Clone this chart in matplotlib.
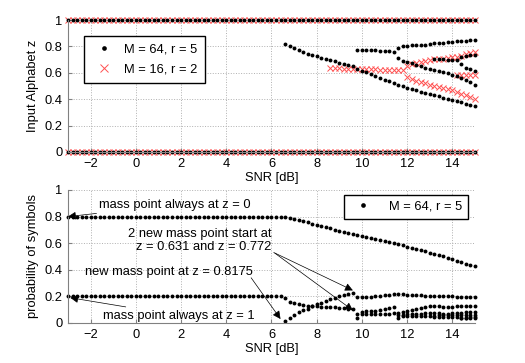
import numpy as np
import matplotlib
matplotlib.use("Agg")
import matplotlib.pyplot as plt

plt.rcParams['font.family'] = ['Liberation Sans', 'DejaVu Sans']
plt.rcParams['font.size'] = 9.3

# SNR grid [dB]
snr = np.round(np.arange(-3.0, 15.01, 0.2), 1)

# ---- top: mass point positions z, M = 64, r = 5 ----
z64_a_start = 6.6
z64_a = [0.818, 0.800, 0.785, 0.770, 0.757, 0.745, 0.734, 0.724, 0.714, 0.704,
         0.695, 0.686, 0.677, 0.669, 0.661, 0.653]
z64_b_start = 9.8
z64_b = [0.631, 0.617, 0.603, 0.589, 0.575, 0.562, 0.549, 0.536, 0.523, 0.510,
         0.498, 0.487, 0.477, 0.467, 0.457, 0.448, 0.439, 0.430, 0.421, 0.412,
         0.403, 0.394, 0.385, 0.376, 0.367, 0.358, 0.349]
z64_c_start = 9.8
z64_c = [0.774, 0.773, 0.772, 0.771, 0.770, 0.768, 0.766, 0.763, 0.760, 0.785,
         0.800, 0.805, 0.807, 0.809, 0.811, 0.814, 0.818, 0.822, 0.826, 0.829,
         0.832, 0.835, 0.838, 0.841, 0.844, 0.847, 0.850]
z64_d_start = 11.6
z64_d = [0.712, 0.692, 0.682, 0.671, 0.660, 0.649, 0.639, 0.630, 0.622, 0.614,
         0.605, 0.595, 0.585, 0.575, 0.562, 0.546, 0.528, 0.505]
z64_e_start = 13.2
z64_e = [0.705, 0.703, 0.701, 0.699, 0.697, 0.700, 0.718, 0.726, 0.732, 0.737]
z64_f_start = 14.4
z64_f = [0.670, 0.640, 0.625, 0.612]

# ---- top: mass point positions z, M = 16, r = 2 ----
z16_a_start = 8.6
z16_a = [0.635, 0.634, 0.633, 0.632, 0.631, 0.630, 0.629, 0.628, 0.627, 0.626,
         0.625, 0.624, 0.623, 0.622, 0.621, 0.620, 0.618]
z16_b_start = 12.0
z16_b = [0.655, 0.665, 0.676, 0.685, 0.692, 0.698, 0.702, 0.705, 0.708, 0.712,
         0.716, 0.722, 0.730, 0.740, 0.748, 0.755]
z16_c_start = 12.0
z16_c = [0.565, 0.552, 0.541, 0.531, 0.521, 0.511, 0.502, 0.493, 0.485, 0.477,
         0.468, 0.458, 0.443, 0.428, 0.413, 0.398]
z16_d_start = 14.2
z16_d = [0.586, 0.585, 0.585, 0.584, 0.584]

# ---- bottom: probabilities, M = 64, r = 5 ----
p_z0_level = 0.8     # flat up to 6.4 dB
p_z1_level = 0.2
p_z0_start = 6.6
p_z0 = [0.797, 0.791, 0.783, 0.774, 0.765, 0.756, 0.747, 0.738, 0.729, 0.720,
        0.711, 0.702, 0.694, 0.686, 0.678, 0.670, 0.662, 0.655, 0.647, 0.639,
        0.631, 0.623, 0.615, 0.607, 0.599, 0.591, 0.583, 0.575, 0.566, 0.557,
        0.548, 0.539, 0.530, 0.520, 0.510, 0.500, 0.490, 0.480, 0.469, 0.458,
        0.447, 0.436, 0.425]
p_z1_start = 6.6
p_z1 = [0.185, 0.160, 0.150, 0.142, 0.136, 0.131, 0.128, 0.126, 0.124, 0.122,
        0.120, 0.117, 0.114, 0.111, 0.108, 0.105]
p_new_start = 6.6
p_new = [0.012, 0.040, 0.062, 0.080, 0.095, 0.108, 0.125, 0.140, 0.152, 0.165,
         0.177, 0.188, 0.200, 0.210, 0.218, 0.226]
p_c_start = 9.8
p_c = [0.197, 0.195, 0.196, 0.199, 0.202, 0.206, 0.210, 0.213, 0.215, 0.217,
       0.216, 0.213, 0.210, 0.208, 0.207, 0.206, 0.205, 0.204, 0.203, 0.202,
       0.201, 0.200, 0.199, 0.198, 0.197, 0.196, 0.195]
p_d_start = 9.8
p_d = [0.070, 0.085, 0.088, 0.090, 0.093, 0.097, 0.102, 0.110, 0.118, 0.072,
       0.080, 0.088, 0.097, 0.106, 0.114, 0.121, 0.127, 0.131, 0.127, 0.124,
       0.123, 0.124, 0.126, 0.127, 0.128, 0.128, 0.128]
p_e_start = 9.8
p_e = [0.040, 0.065, 0.066, 0.067, 0.068, 0.068, 0.069, 0.070, 0.072, 0.035,
       0.062, 0.064, 0.066, 0.068, 0.070, 0.072, 0.074, 0.076, 0.072, 0.070,
       0.070, 0.072, 0.074, 0.078, 0.080, 0.082, 0.083]
p_f_start = 11.6
p_f = [0.060, 0.050, 0.050, 0.051, 0.052, 0.053, 0.054, 0.055, 0.056, 0.057,
       0.058, 0.058, 0.059, 0.060, 0.060, 0.061, 0.062, 0.062]
p_g_start = 13.2
p_g = [0.045, 0.044, 0.043, 0.043, 0.042, 0.042, 0.041, 0.041, 0.040, 0.040]
p_h_start = 14.4
p_h = [0.035, 0.038, 0.042, 0.045]


def seg(start, vals):
    i = int(np.argmin(np.abs(snr - start)))
    return snr[i:i + len(vals)], vals


def before(start):
    return snr[snr < start - 1e-9]


blk = dict(ls='none', marker='o', ms=2.8, color='k', mew=0, clip_on=False)
red = dict(ls='none', marker='x', ms=5, mew=0.7, color='#ff5050', clip_on=False)

fig = plt.figure(figsize=(5.25, 3.63), dpi=100)
ax1 = fig.add_axes([0.1295, 0.5813, 0.7752, 0.3636])
ax2 = fig.add_axes([0.1295, 0.1102, 0.7752, 0.3664])

# top panel
ax1.plot(snr, np.zeros_like(snr), **red)
ax1.plot(snr, np.ones_like(snr), **red)
for s, v in [(z16_a_start, z16_a), (z16_b_start, z16_b),
             (z16_c_start, z16_c), (z16_d_start, z16_d)]:
    ax1.plot(*seg(s, v), **red)
h64, = ax1.plot(snr, np.zeros_like(snr), **blk)
ax1.plot(snr, np.ones_like(snr), **blk)
for s, v in [(z64_a_start, z64_a), (z64_b_start, z64_b), (z64_c_start, z64_c),
             (z64_d_start, z64_d), (z64_e_start, z64_e), (z64_f_start, z64_f)]:
    ax1.plot(*seg(s, v), **blk)
h16, = ax1.plot([], [], **red)
ax1.set_ylabel('Input Alphabet z', labelpad=4)
ax1.legend([h64, h16], ['M = 64, r = 5', 'M = 16, r = 2'], loc='upper left',
           bbox_to_anchor=(0.039, 0.879), borderaxespad=0, fancybox=False,
           edgecolor='k', framealpha=1, handlelength=1.9, handletextpad=0.6,
           borderpad=0.6, labelspacing=0.6, markerscale=1.2)

# bottom panel
x0 = before(p_z0_start)
ax2.plot(x0, np.full(len(x0), p_z0_level), **blk)
ax2.plot(x0, np.full(len(x0), p_z1_level), **blk)
hb, = ax2.plot(*seg(p_z0_start, p_z0), **blk)
for s, v in [(p_z1_start, p_z1), (p_new_start, p_new), (p_c_start, p_c),
             (p_d_start, p_d), (p_e_start, p_e), (p_f_start, p_f),
             (p_g_start, p_g), (p_h_start, p_h)]:
    ax2.plot(*seg(s, v), **blk)
ax2.set_ylabel('probability of symbols', labelpad=4)
ax2.legend([hb], ['M = 64, r = 5'], loc='upper right',
           bbox_to_anchor=(0.983, 0.962), borderaxespad=0, fancybox=False,
           edgecolor='k', framealpha=1, handlelength=1.9, handletextpad=1.1,
           borderpad=0.45, markerscale=1.2)

arw = dict(arrowstyle='-|>', color='k', lw=0.5, mutation_scale=12,
           shrinkA=0, shrinkB=0)
ax2.annotate('mass point always at z = 0', xy=(-3.0, 0.8), xytext=(-1.62, 0.89),
             va='center', ha='left', arrowprops=arw, annotation_clip=False)
ax2.annotate('mass point always at z = 1', xy=(-2.9, 0.19), xytext=(-1.45, 0.055),
             va='center', ha='left', arrowprops=arw, annotation_clip=False)
ax2.text(-2.25, 0.38, 'new mass point at z = 0.8175', ha='left', va='center')
ax2.annotate('', xy=(6.4, 0.03), xytext=(5.1, 0.34), arrowprops=arw)
ax2.text(6.0, 0.62, '2 new mass point start at\nz = 0.631 and z = 0.772',
         ha='right', va='center', multialignment='right', linespacing=1.15)
ax2.annotate('', xy=(9.6, 0.245), xytext=(6.1, 0.53), arrowprops=arw)
ax2.annotate('', xy=(9.6, 0.095), xytext=(6.15, 0.525), arrowprops=arw)

for ax in (ax1, ax2):
    ax.set_xlim(-3, 15)
    ax.set_ylim(0, 1)
    ax.set_xticks(np.arange(-2, 15, 2))
    ax.set_yticks(np.arange(0, 1.01, 0.2))
    ax.set_yticklabels(['0', '0.2', '0.4', '0.6', '0.8', '1'])
    ax.set_xlabel('SNR [dB]', labelpad=2)
    ax.grid(True, ls=':', color='#b0b0b0', lw=0.7)
    ax.set_axisbelow(True)
    for sp in ('top', 'right'):
        ax.spines[sp].set_visible(False)
    for sp in ('left', 'bottom'):
        ax.spines[sp].set_color('#808080')
    ax.tick_params(direction='in', color='#808080', length=3, pad=4)

fig.savefig('out.png', dpi=100)
